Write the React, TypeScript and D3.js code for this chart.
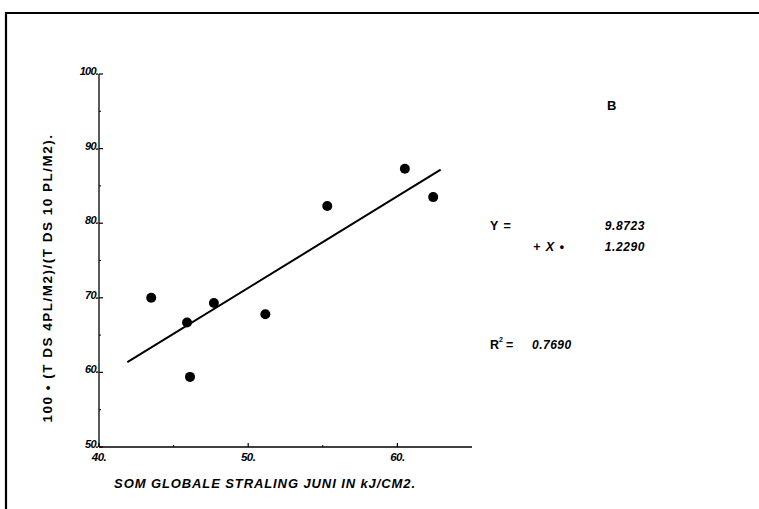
import React from "react";
import * as d3 from "d3";

const xValues = [43.5, 45.9, 46.1, 47.7, 51.15, 55.3, 60.5, 62.4];
const yValues = [70.0, 66.7, 59.4, 69.3, 67.8, 82.3, 87.3, 83.5];
const xTicks = [40, 50, 60];
const yTicks = [50, 60, 70, 80, 90, 100];
const xMinor = [45, 55];
const yMinor = [55, 65, 75, 85, 95];
const intercept = 9.8723;
const slope = 1.229;
const lineRange = [41.9, 62.9];
const rSquared = "0.7690";

export default function App() {
  const W = 759, H = 509;
  const x = d3.scaleLinear().domain([40, 65]).range([99, 472]);
  const y = d3.scaleLinear().domain([50, 100]).range([447, 74]);
  const font = "'Liberation Sans', Arial, sans-serif";
  const pts = xValues.map((v, i) => [v, yValues[i]] as [number, number]);
  const line = d3.line<number>().x((d) => x(d)).y((d) => y(intercept + slope * d));
  return (
    <svg width={W} height={H} style={{ position: "absolute", left: 0, top: 0, background: "#fff" }} fontFamily={font}>
      <rect x={0} y={0} width={W} height={H} fill="#fff" />
      {/* frame */}
      <line x1={5} y1={13} x2={W} y2={13} stroke="#000" strokeWidth={2.2} />
      <line x1={6} y1={12} x2={6} y2={H} stroke="#000" strokeWidth={2.2} />
      {/* axes */}
      <line x1={x(40)} y1={y(100)} x2={x(40)} y2={y(50)} stroke="#000" strokeWidth={1.3} />
      <line x1={x(40)} y1={y(50)} x2={x(65)} y2={y(50)} stroke="#000" strokeWidth={1.3} />
      {yTicks.map((t) => (
        <g key={"yt" + t}>
          <line x1={x(40)} x2={x(40) + 4} y1={y(t)} y2={y(t)} stroke="#000" strokeWidth={1.2} />
          <text x={x(40) - 1} y={y(t) + 1} textAnchor="end" fontSize={11} fontWeight="bold" fontStyle="italic" letterSpacing={-0.8}>
            {t + "."}
          </text>
        </g>
      ))}
      {yMinor.map((t) => (
        <line key={"ym" + t} x1={x(40)} x2={x(40) + 2} y1={y(t)} y2={y(t)} stroke="#000" strokeWidth={1} />
      ))}
      {xTicks.map((t) => (
        <g key={"xt" + t}>
          <line x1={x(t)} x2={x(t)} y1={y(50)} y2={y(50) - 4} stroke="#000" strokeWidth={1.2} />
          <text x={x(t)} y={y(50) + 14} textAnchor="middle" fontSize={11.5} fontWeight="bold" fontStyle="italic" letterSpacing={-0.5}>
            {t + "."}
          </text>
        </g>
      ))}
      {xMinor.map((t) => (
        <line key={"xm" + t} x1={x(t)} x2={x(t)} y1={y(50)} y2={y(50) - 2} stroke="#000" strokeWidth={1} />
      ))}
      {/* regression line */}
      <path d={line(lineRange) || ""} stroke="#000" strokeWidth={2} fill="none" />
      {/* points */}
      {pts.map((p, i) => (
        <circle key={i} cx={x(p[0])} cy={y(p[1])} r={5} fill="#000" />
      ))}
      {/* axis labels */}
      <text transform={`translate(52,278) rotate(-90)`} textAnchor="middle" fontSize={13.5} fontWeight="bold" letterSpacing={1.5}>
        100 • (T DS 4PL/M2)/(T DS 10 PL/M2).
      </text>
      <text x={265} y={488} textAnchor="middle" fontSize={13} fontWeight="bold" fontStyle="italic" letterSpacing={0.9}>
        SOM GLOBALE STRALING JUNI IN kJ/CM2.
      </text>
      {/* annotations */}
      <text x={607} y={110} fontSize={13} fontWeight="bold">B</text>
      <text x={490} y={230} fontSize={12.5} fontWeight="bold" letterSpacing={1}>Y =</text>
      <text x={645} y={230} textAnchor="end" fontSize={12} fontWeight="bold" fontStyle="italic" letterSpacing={0.6}>{intercept.toFixed(4)}</text>
      <text x={533} y={251} fontSize={12.5} fontWeight="bold" fontStyle="italic" letterSpacing={1}>+ X  •</text>
      <text x={645} y={251} textAnchor="end" fontSize={12} fontWeight="bold" fontStyle="italic" letterSpacing={0.6}>{slope.toFixed(4)}</text>
      <text x={490} y={349} fontSize={12.5} fontWeight="bold">R</text>
      <text x={499} y={342} fontSize={7} fontWeight="bold">2</text>
      <text x={506} y={349} fontSize={12.5} fontWeight="bold">=</text>
      <text x={532} y={349} fontSize={12} fontWeight="bold" fontStyle="italic" letterSpacing={0.5}>{rSquared}</text>
    </svg>
  );
}
